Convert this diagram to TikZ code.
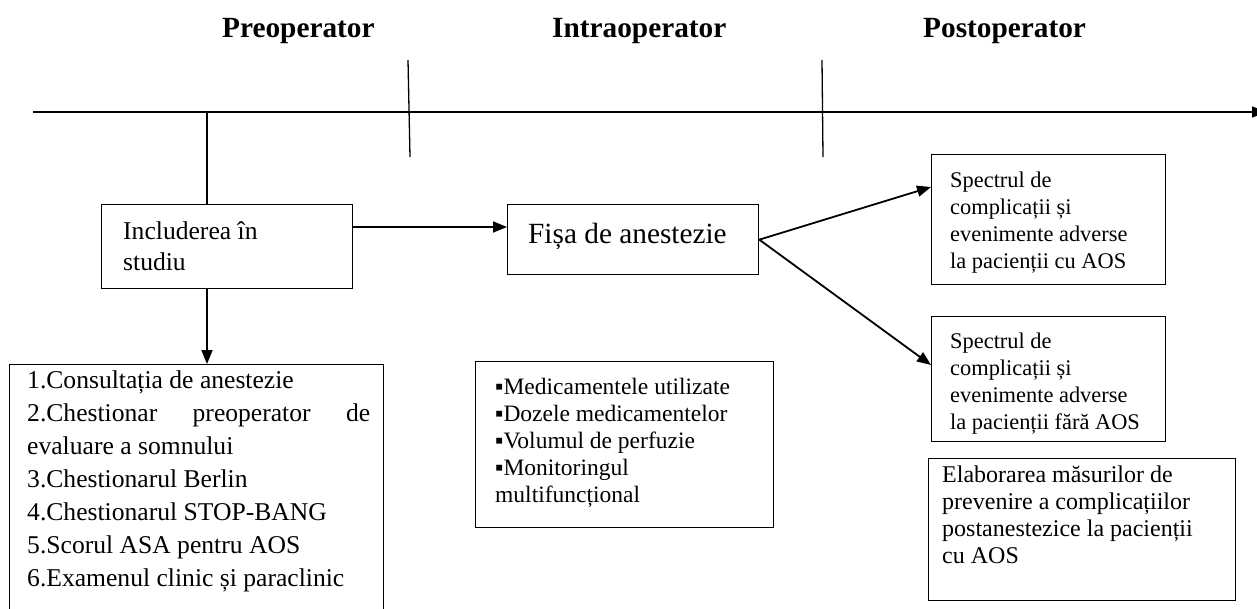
\documentclass[tikz,border=0pt]{standalone}
\usepackage{fontspec}
\setmainfont{Liberation Serif}
\usetikzlibrary{arrows.meta}
\begin{document}
\begin{tikzpicture}[x=1pt,y=-1pt,
  box/.style={draw, line width=1.3pt, inner sep=0pt, anchor=north west},
  conn/.style={line width=1.8pt},
  arr/.style={conn,-{Triangle[length=14pt,width=11pt]}},
  tickline/.style={line width=1.3pt},
  txt/.style={anchor=base west, inner sep=0pt},
  hdr/.style={anchor=base west, inner sep=0pt, font=\fontsize{29.3}{32}\selectfont\bfseries}]
\useasboundingbox (0,0) rectangle (1257,608);

% headers
\node[hdr] (h1) at (222,37) {Preoperator};
\node[hdr] (h2) at (552,37) {Intraoperator};
\node[hdr] (h3) at (923,37) {Postoperator};

% time axis
\coordinate (axL) at (33,112);
\coordinate (axR) at (1266,112);
\draw[arr] (axL) -- (axR);
\coordinate (t1a) at (408,60);
\coordinate (t1b) at (410,157);
\coordinate (t2a) at (822,60);
\coordinate (t2b) at (823,157);
\draw[tickline] (t1a) -- (t1b);
\draw[tickline] (t2a) -- (t2b);

% boxes
\node[box, minimum width=251pt, minimum height=84pt] (incl) at (101,204) {};
\node[box, minimum width=251pt, minimum height=70pt] (fisa) at (507,204) {};
\node[box, minimum width=374pt, minimum height=260pt] (list) at (9,364) {};
\node[box, minimum width=298pt, minimum height=166pt] (intra) at (475,361) {};
\node[box, minimum width=234pt, minimum height=130pt] (b1) at (931,154) {};
\node[box, minimum width=234pt, minimum height=125pt] (b2) at (931,316) {};
\node[box, minimum width=307pt, minimum height=142pt] (b3) at (928,458) {};

% texts
\node[txt] (inclT) at (123,239) {\parbox[t]{225pt}{\fontsize{25.6}{31}\selectfont Includerea în\\studiu}};
\node[txt] (fisaT) at (528,243) {\fontsize{29.3}{32}\selectfont Fișa de anestezie};
\node[txt] (listT) at (27,388) {\parbox[t]{343pt}{\fontsize{25.6}{33}\selectfont
1.Consultația de anestezie\\
2.Chestionar\hfill preoperator\hfill de\\
evaluare a somnului\\
3.Chestionarul Berlin\\
4.Chestionarul STOP-BANG\\
5.Scorul ASA pentru AOS\\
6.Examenul clinic și paraclinic}};
\node[txt] (intraT) at (495,394) {\parbox[t]{270pt}{\fontsize{23.5}{27}\selectfont
▪Medicamentele utilizate\\
▪Dozele medicamentelor\\
▪Volumul de perfuzie\\
▪Monitoringul\\
multifuncțional}};
\node[txt] (b1T) at (950,187) {\parbox[t]{210pt}{\fontsize{22.4}{27}\selectfont
Spectrul de\\
complicații și\\
evenimente adverse\\
la pacienții cu AOS}};
\begin{scope}
\clip (931,316) rectangle (1165,434);
\node[txt] (b2T) at (950,348) {\parbox[t]{210pt}{\fontsize{22.4}{27}\selectfont
Spectrul de\\
complicații și\\
evenimente adverse\\
la pacienții fără AOS}};
\end{scope}
\node[txt] (b3T) at (942,482) {\parbox[t]{290pt}{\fontsize{24}{27}\selectfont
Elaborarea măsurilor de\\
prevenire a complicațiilor\\
postanestezice la pacienții\\
cu AOS}};

% connectors
\coordinate (j1) at (207,112);
\draw[conn] (j1) -- (j1 |- incl.north);
\draw[arr] (j1 |- incl.south) -- (j1 |- list.north);
\draw[arr] ([yshift=-23pt]incl.north east) -- ([yshift=-23pt]incl.north east -| fisa.west);
\draw[arr] (fisa.east) -- ([yshift=-33pt]b1.north west);
\draw[arr] (fisa.east) -- ([yshift=-49pt]b2.north west);
\end{tikzpicture}
\end{document}
